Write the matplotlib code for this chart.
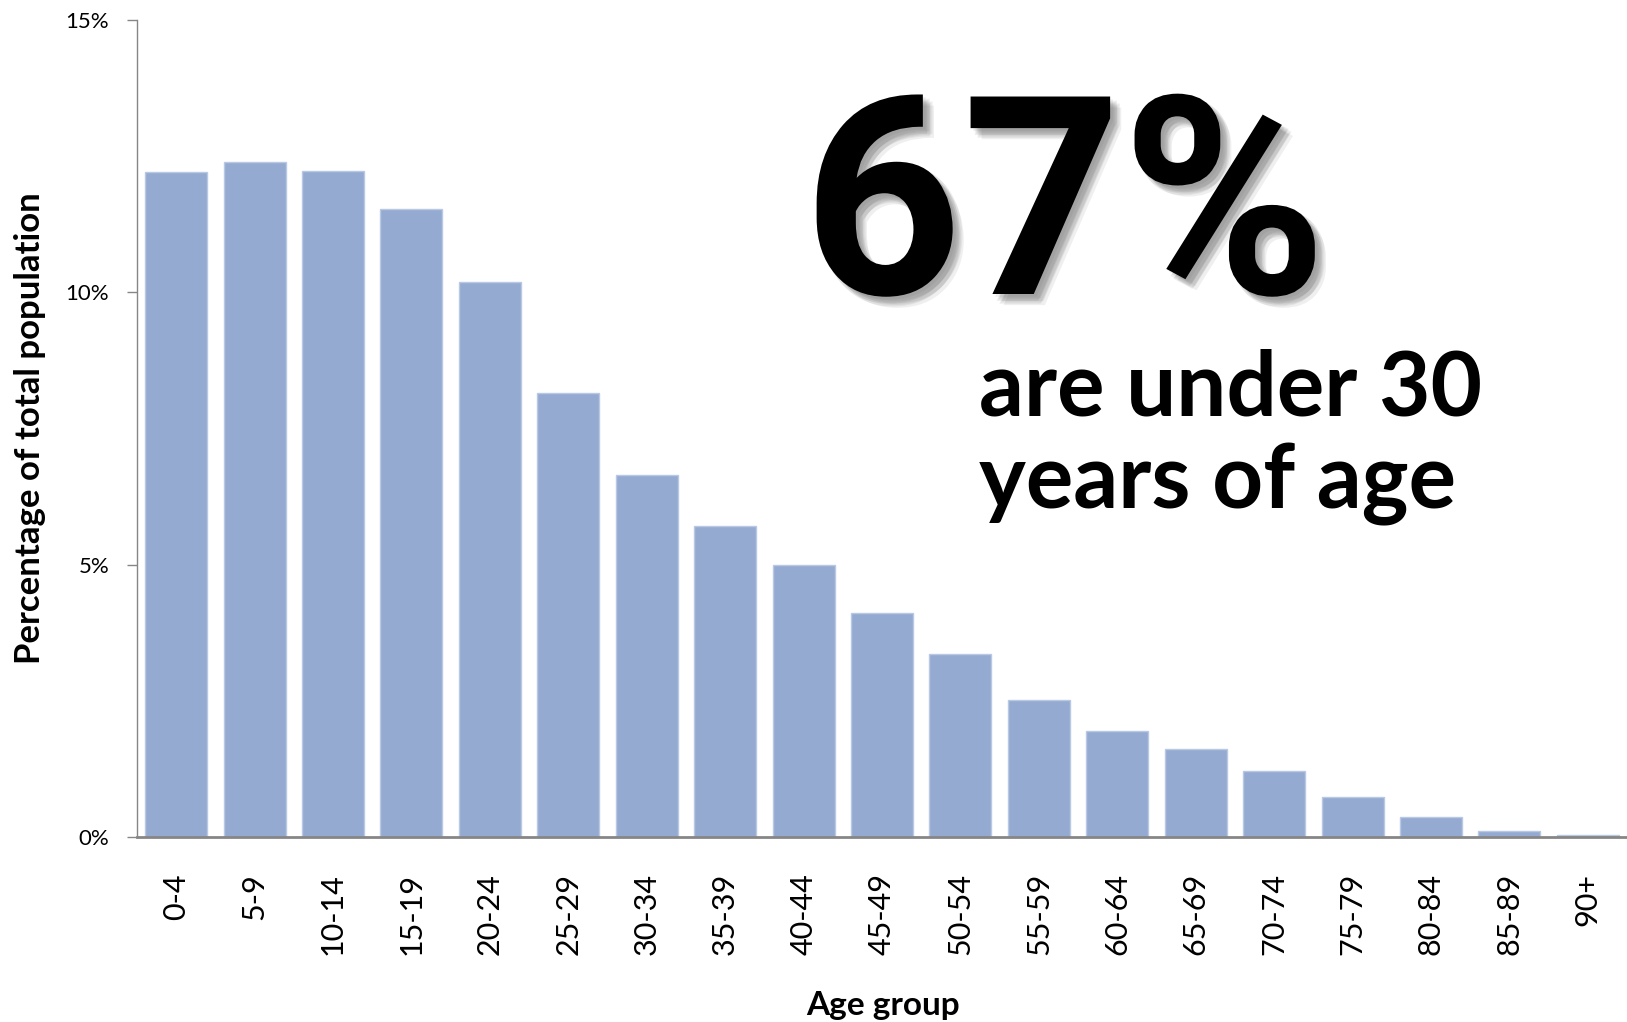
import matplotlib
matplotlib.use("Agg")
import matplotlib.pyplot as plt
import matplotlib.patheffects as pe
from matplotlib.ticker import FuncFormatter

plt.rcParams['font.family'] = ['Lato', 'DejaVu Sans']

age_groups = ['0-4', '5-9', '10-14', '15-19', '20-24', '25-29', '30-34', '35-39',
              '40-44', '45-49', '50-54', '55-59', '60-64', '65-69', '70-74',
              '75-79', '80-84', '85-89', '90+']
pct_population = [12.21, 12.39, 12.23, 11.53, 10.19, 8.15, 6.64, 5.71, 5.00,
                  4.12, 3.36, 2.52, 1.95, 1.62, 1.22, 0.74, 0.36, 0.11, 0.04]
y_ticks = [0, 5, 10, 15]

headline = '67%'
sub_lines = ['are under 30', 'years of age']

fig = plt.figure(figsize=(16.27, 10.22), dpi=100)
ax = fig.add_axes([0.0842, 0.181, 0.9158, 0.7997])

x = range(len(age_groups))
ax.bar(x, pct_population, width=0.79, color='#95AAD1', edgecolor='#B9C8E3', linewidth=1)

ax.set_xlim(-0.5, len(age_groups) - 0.5)
ax.set_ylim(0, 15)
ax.set_yticks(y_ticks)
ax.yaxis.set_major_formatter(FuncFormatter(lambda v, p: '%d%%' % v))
ax.set_xticks(list(x))
ax.set_xticklabels(age_groups, rotation=90, fontsize=22)

ax.tick_params(axis='y', direction='out', length=7, width=1, color='#868686',
               labelsize=16, pad=13)
ax.tick_params(axis='x', length=0, pad=26)

for s in ['top', 'right']:
    ax.spines[s].set_visible(False)
ax.spines['left'].set_color('#868686')
ax.spines['left'].set_linewidth(1)
ax.spines['bottom'].set_color('#868686')
ax.spines['bottom'].set_linewidth(2)

ax.set_ylabel('Percentage of total population', fontsize=25, fontweight='bold')
ax.yaxis.set_label_coords(-0.061, 0.5)
fig.text(0.543, 1 - 1015 / 1022, 'Age group', fontsize=24, fontweight='bold',
         ha='center', va='baseline')

# big callout text with a soft drop shadow
shadow = [pe.SimplePatchShadow(offset=o, shadow_rgbFace='#555555', alpha=0.09)
          for o in [(2, -2), (3, -5), (5, -3), (4, -4), (6, -6), (5, -7), (7, -5), (8, -8)]]
t = fig.text(0.4935, 1 - 294 / 1022, headline, fontsize=200, fontweight='bold',
             family=['Roboto', 'DejaVu Sans'], ha='left', va='baseline')
t.set_path_effects(shadow + [pe.Normal()])

fig.text(0.602, 1 - 415 / 1022, sub_lines[0], fontsize=64, fontweight='bold',
         ha='left', va='baseline')
fig.text(0.602, 1 - 508 / 1022, sub_lines[1], fontsize=64, fontweight='bold',
         ha='left', va='baseline')

fig.savefig('out.png', dpi=100)
